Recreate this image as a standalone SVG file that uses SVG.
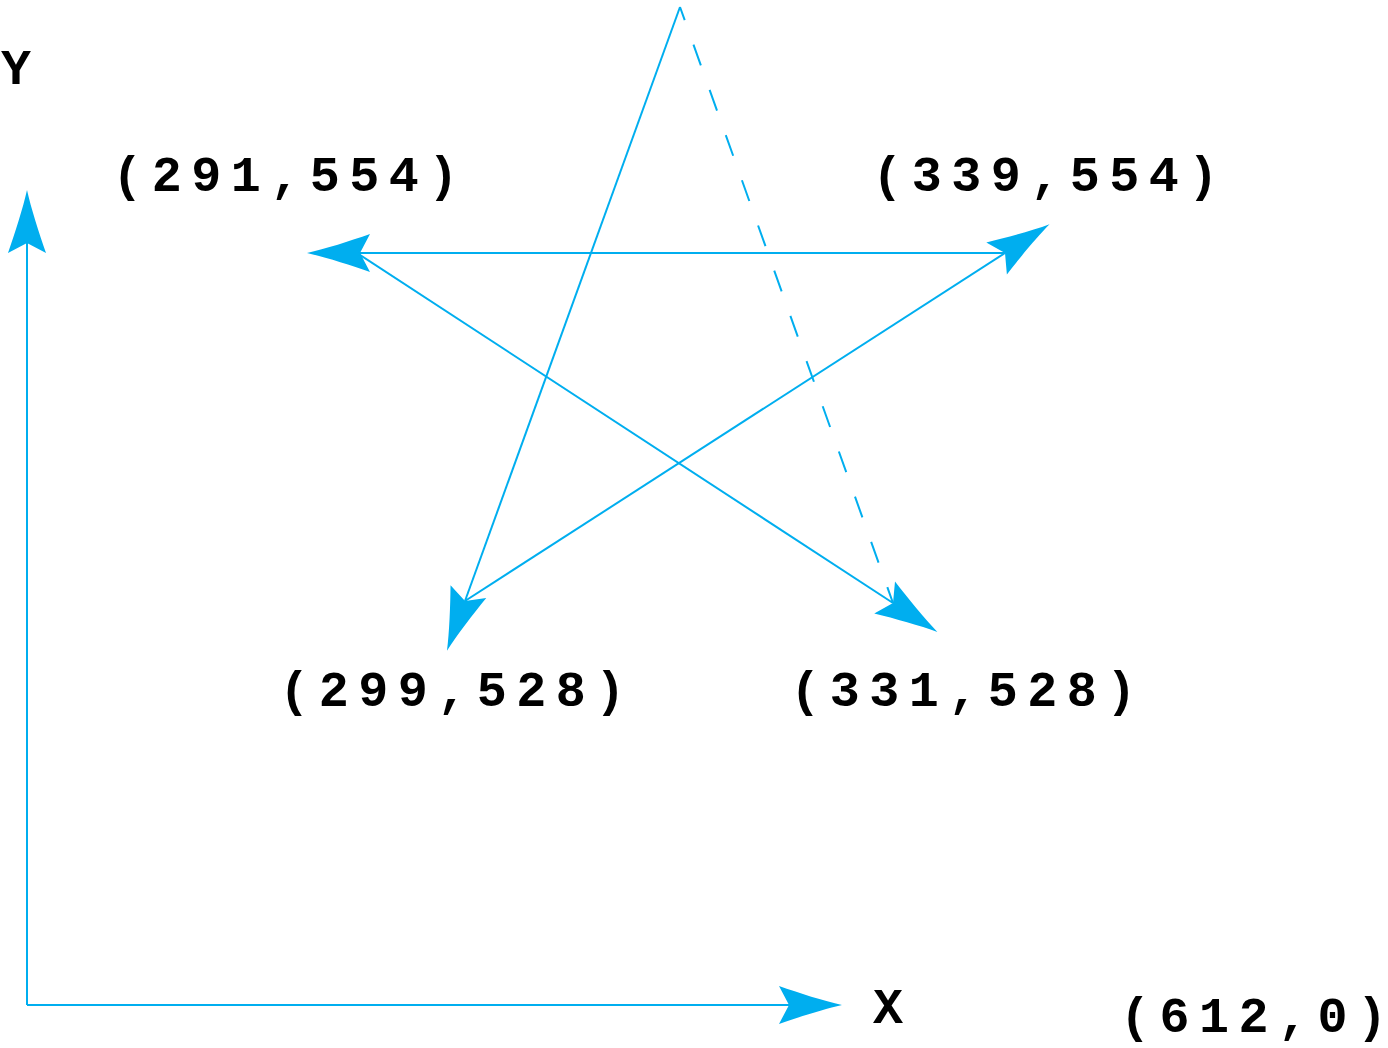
<svg xmlns="http://www.w3.org/2000/svg" width="1388" height="1048" viewBox="0 0 1388 1048">
  <style>
    .ln { fill: none; stroke: #00aeef; stroke-width: 2; }
    .dash { stroke-dasharray: 22 26; stroke-dashoffset: 8; }
    .lbl { font-family: "Liberation Mono", "DejaVu Sans Mono", monospace; font-weight: bold; font-size: 50px; fill: #000; letter-spacing: 9.5px; text-anchor: middle; }
    .lbl2 { font-family: "Liberation Mono", "DejaVu Sans Mono", monospace; font-weight: bold; font-size: 50px; fill: #000; }
    .ax { font-family: "Liberation Mono", "DejaVu Sans Mono", monospace; font-weight: bold; font-size: 50px; fill: #000; text-anchor: middle; }
  </style>
  <defs>
    <marker id="arr" markerUnits="userSpaceOnUse" orient="auto" refX="0" refY="0" markerWidth="10" markerHeight="10" overflow="visible">
      <path d="M53,0 C35,-4 10,-12 -10,-19 L0,0 L-10,19 C10,12 35,4 53,0 Z" fill="#00aeef"/>
    </marker>
  </defs>
  <rect width="1388" height="1048" fill="#fff"/>
  <g id="connectors">
    <path class="ln" d="M27,1005 L27,243" marker-end="url(#arr)"/>
    <path class="ln" d="M27,1005 L789,1005" marker-end="url(#arr)"/>
    <path class="ln" d="M680,7 L465,601" marker-end="url(#arr)"/>
    <path class="ln" d="M465,601 L1005,253" marker-end="url(#arr)"/>
    <path class="ln" d="M1005,253 L360,253" marker-end="url(#arr)"/>
    <path class="ln" d="M357,253 L893,603" marker-end="url(#arr)"/>
    <path class="ln dash" d="M680,7 L893,603"/>
  </g>
  <g id="label-y"><text class="ax" x="16" y="84">Y</text></g>
  <g id="label-x"><text class="ax" x="888" y="1023">X</text></g>
  <g id="p291-554"><text class="lbl" x="290" y="191">(291,554)</text></g>
  <g id="p339-554"><text class="lbl" x="1050" y="191">(339,554)</text></g>
  <g id="p299-528"><text class="lbl" x="457" y="706">(299,528)</text></g>
  <g id="p331-528"><text class="lbl" x="968" y="706">(331,528)</text></g>
  <g id="p612-0"><text class="lbl2" x="1120 1159.5 1199 1238.5 1278 1317.5 1357" y="1032">(612,0)</text></g>
</svg>
